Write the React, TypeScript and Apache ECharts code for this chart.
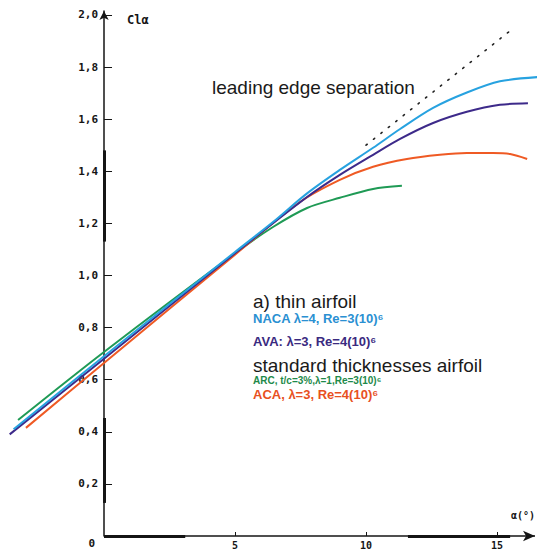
import React, { useEffect, useRef } from 'react';
import * as echarts from 'echarts';

// Lift curves: angle of attack (deg) and lift coefficient
const blueAlpha = [-3.45, 0, 5, 6.45, 7.75, 9.0, 10.27, 11.3, 12.56, 13.85, 15.11, 16.64];
const blueCl = [0.41, 0.69, 1.09, 1.205, 1.315, 1.405, 1.49, 1.562, 1.643, 1.702, 1.745, 1.762];

const purpleAlpha = [-3.6, 0, 5, 7.75, 9.0, 10.27, 11.3, 12.56, 13.85, 15.11, 16.18];
const purpleCl = [0.39, 0.68, 1.085, 1.301, 1.386, 1.463, 1.524, 1.585, 1.628, 1.655, 1.661];

const orangeAlpha = [-2.98, 0, 5, 7.48, 9.0, 10.27, 11.56, 12.82, 13.85, 14.85, 15.5, 16.15];
const orangeCl = [0.415, 0.664, 1.08, 1.282, 1.367, 1.417, 1.447, 1.463, 1.47, 1.47, 1.466, 1.447];

const greenAlpha = [-3.28, 0, 5, 6.45, 7.75, 9.0, 10.27, 11.37];
const greenCl = [0.445, 0.706, 1.085, 1.186, 1.259, 1.298, 1.332, 1.344];

// linear extrapolation (leading edge separation)
const dottedAlpha = [10.0, 15.45];
const dottedCl = [1.5, 1.935];

const xTicks = [5, 10, 15];
const yTicks = [0, 0.2, 0.4, 0.6, 0.8, 1.0, 1.2, 1.4, 1.6, 1.8, 2.0];

const X_MIN = -3.9;
const X_MAX = 16.45;

const pairs = (a: number[], c: number[]) => a.map((x, i) => [x, c[i]]);

const AXIS = '#151515';
const MONO = '"DejaVu Sans Mono", monospace';
const SANS = '"Liberation Sans", Arial, sans-serif';

export default function App() {
  const ref = useRef<HTMLDivElement>(null);
  useEffect(() => {
    const chart = echarts.init(ref.current!, null, { renderer: 'svg' });
    const lineSeries = (name: string, a: number[], c: number[], color: string) => ({
      type: 'line',
      name,
      data: pairs(a, c),
      showSymbol: false,
      clip: false,
      smooth: 0.3,
      lineStyle: { color, width: 2 },
      z: 3,
    });
    chart.setOption({
      animation: false,
      backgroundColor: '#ffffff',
      grid: { left: 1.82, top: 11, width: 533.2, height: 525, containLabel: false, outerBoundsMode: 'none' },
      xAxis: {
        type: 'value',
        min: X_MIN,
        max: X_MAX,
        splitLine: { show: false },
        axisLine: { show: false, onZero: false },
        axisTick: { show: true, inside: true, length: 4, customValues: xTicks, lineStyle: { color: AXIS } },
        axisLabel: {
          customValues: xTicks,
          color: AXIS,
          fontFamily: MONO,
          fontWeight: 'bold',
          fontSize: 10,
          margin: 4,
        },
      },
      yAxis: {
        type: 'value',
        min: 0,
        max: 2.015,
        offset: -102.2,
        splitLine: { show: false },
        axisLine: {
          show: true,
          onZero: false,
          symbol: ['none', 'arrow'],
          symbolSize: [7, 9],
          lineStyle: { color: AXIS, width: 1.5 },
        },
        axisTick: { show: true, inside: true, length: 8, customValues: yTicks, lineStyle: { color: AXIS } },
        axisLabel: {
          customValues: yTicks,
          color: AXIS,
          fontFamily: MONO,
          fontWeight: 'bold',
          fontSize: 11,
          margin: 6,
          formatter: (v: number) => (v === 0 ? '{o|0}' : v.toFixed(1).replace('.', ',')),
          rich: {
            o: { fontFamily: MONO, fontWeight: 'bold', fontSize: 11, color: AXIS, padding: [14, 3, 0, 0] },
          },
        },
      },
      series: [
        {
          type: 'line',
          name: 'separation',
          data: pairs(dottedAlpha, dottedCl),
          showSymbol: false,
          clip: false,
          lineStyle: { color: '#222', width: 1.6, type: [1.5, 8], cap: 'round' },
          z: 2,
          markLine: {
            silent: true,
            symbol: ['none', 'none'],
            label: { show: false },
            lineStyle: { color: AXIS, width: 3, type: 'solid' },
            data: [
              [{ coord: [0, 1.13] }, { coord: [0, 1.48] }],
              [{ coord: [0, 0.127] }, { coord: [0, 0.453] }],
              [{ coord: [0, 0] }, { coord: [3.1, 0] }],
              [{ coord: [11.6, 0] }, { coord: [15.5, 0] }],
            ],
          },
        },
        {
          type: 'line',
          name: 'x axis',
          data: [],
          markLine: {
            silent: true,
            symbol: ['none', 'arrow'],
            symbolSize: [8, 12],
            label: { show: false },
            lineStyle: { color: AXIS, width: 1.5, type: 'solid' },
            data: [[{ coord: [0, 0] }, { coord: [X_MAX, 0] }]],
          },
        },
        lineSeries('green', greenAlpha, greenCl, '#1f9a55'),
        lineSeries('orange', orangeAlpha, orangeCl, '#ef5a24'),
        lineSeries('purple', purpleAlpha, purpleCl, '#3d2a8a'),
        lineSeries('blue', blueAlpha, blueCl, '#27a2e0'),
      ],
      graphic: [
        { type: 'text', x: 212, y: 87, style: { text: 'leading edge separation', fill: '#1a1a1a', font: `19px ${SANS}`, verticalAlign: 'middle' } },
        { type: 'text', x: 253, y: 301, style: { text: 'a) thin airfoil', fill: '#1a1a1a', font: `19px ${SANS}`, verticalAlign: 'middle' } },
        { type: 'text', x: 253, y: 318, style: { text: 'NACA λ=4, Re=3(10)⁶', fill: '#2a90d2', font: `bold 13px ${SANS}`, verticalAlign: 'middle' } },
        { type: 'text', x: 253, y: 341, style: { text: 'AVA: λ=3, Re=4(10)⁶', fill: '#3a2a80', font: `bold 13px ${SANS}`, verticalAlign: 'middle' } },
        { type: 'text', x: 253, y: 365, style: { text: 'standard thicknesses airfoil', fill: '#1a1a1a', font: `19px ${SANS}`, verticalAlign: 'middle' } },
        { type: 'text', x: 253, y: 380, style: { text: 'ARC, t/c=3%,λ=1,Re=3(10)⁶', fill: '#1e8a4a', font: `bold 10px ${SANS}`, verticalAlign: 'middle' } },
        { type: 'text', x: 253, y: 394, style: { text: 'ACA, λ=3, Re=4(10)⁶', fill: '#e8501e', font: `bold 13px ${SANS}`, verticalAlign: 'middle' } },
        { type: 'text', x: 127, y: 20, style: { text: 'Clα', fill: AXIS, font: `bold 12px ${MONO}`, verticalAlign: 'middle' } },
        { type: 'text', x: 511, y: 515, style: { text: 'α(°)', fill: AXIS, font: `bold 10px ${MONO}`, verticalAlign: 'middle' } },
      ],
    });
    return () => chart.dispose();
  }, []);
  return (
    <div
      ref={ref}
      style={{ position: 'absolute', left: 0, top: 0, width: 544, height: 551, background: '#fff' }}
    />
  );
}
